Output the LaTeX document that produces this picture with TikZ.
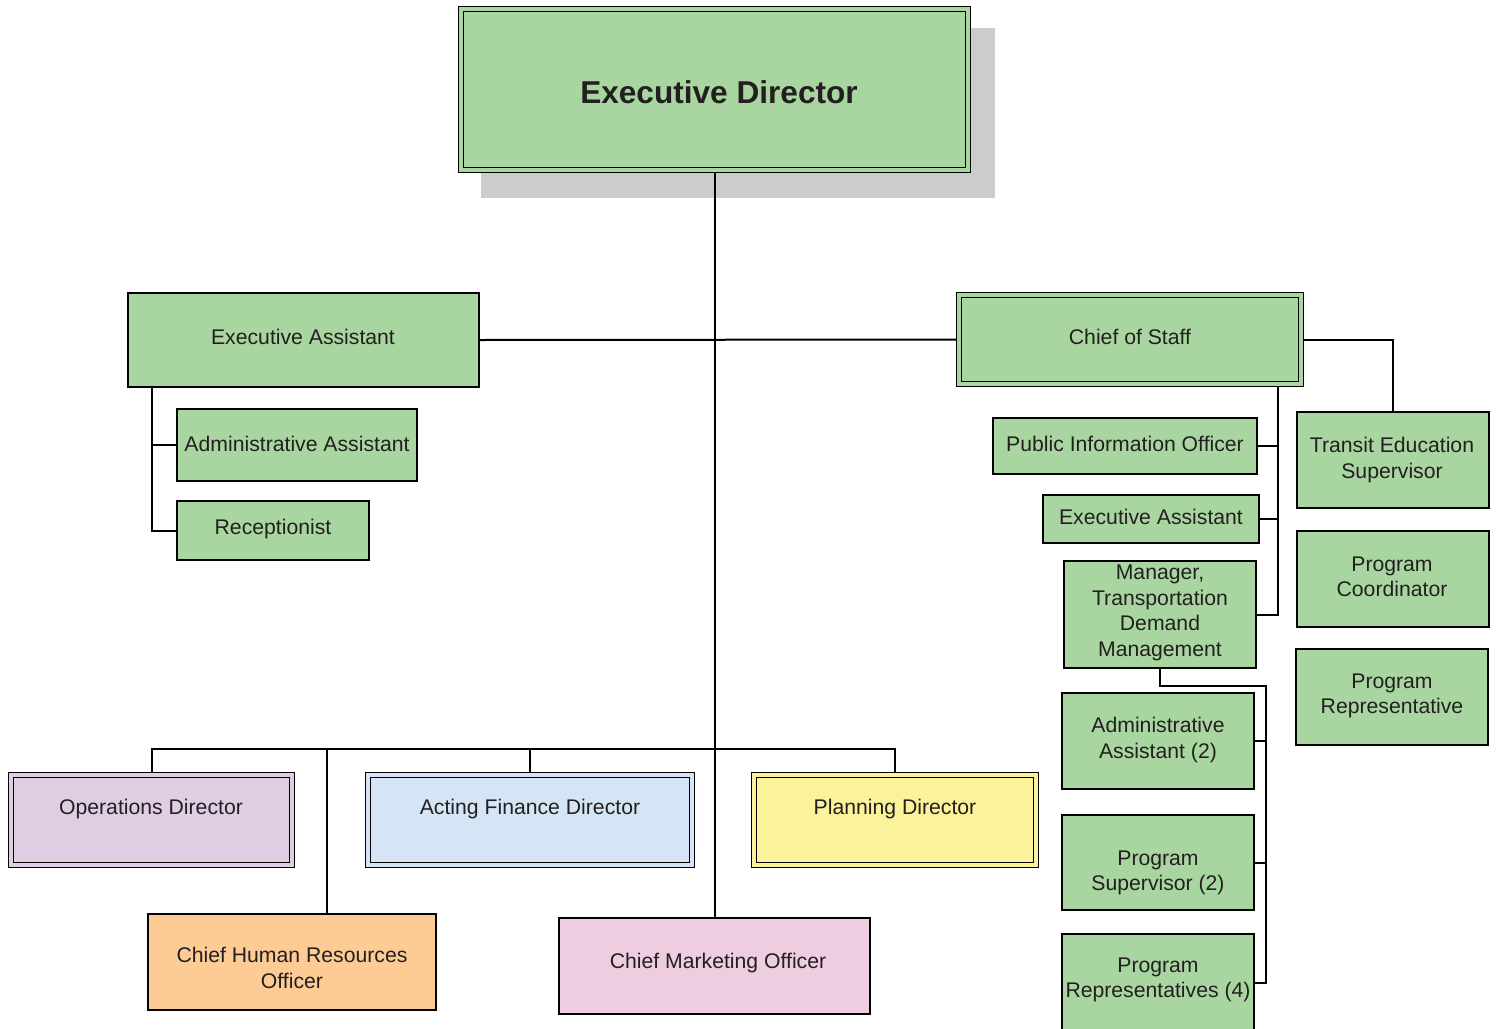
\documentclass[tikz,border=0pt]{standalone}
\usepackage{fontspec}
\setmainfont{Liberation Sans}
\usetikzlibrary{backgrounds}

\definecolor{boxgreen}{HTML}{A9D6A0}
\definecolor{opslilac}{HTML}{DFCDE4}
\definecolor{finblue}{HTML}{D6E5F5}
\definecolor{planyellow}{HTML}{FAF39A}
\definecolor{hrorange}{HTML}{FDCB94}
\definecolor{mktpink}{HTML}{EECDE1}
\definecolor{shadowgray}{HTML}{CCCCCC}
\definecolor{ink}{HTML}{231F20}

% #1 style, #2 name, (#3,#4) top-left corner, (#5,#6) bottom-right corner
\newcommand\orgrect[6]{%
  \node[#1, rectangle, inner sep=0pt, outer sep=0pt,
        minimum width={(#5-#3)*0.5pt}, minimum height={(#6-#4)*0.5pt}]
        (#2) at ({(#3+#5)/2},{(#4+#6)/2}) {};}

\begin{document}
\begin{tikzpicture}[x=0.5pt,y=-0.5pt,
  box/.style={draw=black, line width=0.85pt, fill=#1},
  box/.default=boxgreen,
  dbox/.style={draw=black, line width=0.85pt, double=#1, double distance=1.7pt, fill=#1},
  dbox/.default=boxgreen,
  link/.style={draw=black, line width=1pt},
  lbl/.style={font=\fontsize{10.6}{12.8}\selectfont, text=ink, align=center, inner sep=0pt},
  title/.style={font=\fontsize{15.8}{18}\selectfont\bfseries, text=ink, inner sep=0pt}]
\useasboundingbox (0,0) rectangle (1496,1029);

% ---- boxes ----
\orgrect{dbox}{ed}{461}{9}{968}{170}
\orgrect{box}{ea}{128}{293}{479}{387}
\orgrect{box}{aa}{177}{409}{417}{481}
\orgrect{box}{rec}{177}{501}{369}{560}
\orgrect{dbox}{cos}{959}{295}{1301}{384}
\orgrect{box}{pio}{993}{418}{1257}{474}
\orgrect{box}{eatwo}{1043}{495}{1259}{543}
\orgrect{box}{mgr}{1064}{561}{1256}{668}
\orgrect{box}{asst}{1062}{693}{1254}{789}
\orgrect{box}{psup}{1062}{815}{1254}{910}
\orgrect{box}{preps}{1062}{934}{1254}{1032}
\orgrect{box}{tes}{1297}{412}{1489}{508}
\orgrect{box}{pcoord}{1297}{531}{1489}{627}
\orgrect{box}{prep}{1296}{649}{1488}{745}
\orgrect{dbox=opslilac}{ops}{11}{775}{292}{865}
\orgrect{dbox=finblue}{afd}{368}{775}{692}{865}
\orgrect{dbox=planyellow}{plan}{754}{775}{1036}{865}
\orgrect{box=hrorange}{chro}{148}{914}{436}{1010}
\orgrect{box=mktpink}{cmo}{559}{918}{870}{1014}

% ---- labels ----
\node[title] (edT) at (719,92) {Executive Director};
\node[lbl] (eaT) at (303,337) {Executive Assistant};
\node[lbl] (aaT) at (297,444) {Administrative Assistant};
\node[lbl] (recT) at (273,529) {Receptionist};
\node[lbl] (cosT) at (1130,337) {Chief of Staff};
\node[lbl] (pioT) at (1125,444) {Public Information Officer};
\node[lbl] (eatwoT) at (1151,517) {Executive Assistant};
\node[lbl] (mgrT) at (1160,613) {Manager,\\Transportation\\Demand\\Management};
\node[lbl] (asstT) at (1158,740) {Administrative\\Assistant (2)};
\node[lbl] (psupT) at (1158,873) {Program\\Supervisor (2)};
\node[lbl] (prepsT) at (1158,980) {Program\\Representatives (4)};
\node[lbl] (tesT) at (1392,460) {Transit Education\\Supervisor};
\node[lbl] (pcoordT) at (1392,577) {Program\\Coordinator};
\node[lbl] (prepT) at (1392,696) {Program\\Representative};
\node[lbl] (opsT) at (151,809) {Operations Director};
\node[lbl] (afdT) at (530,809) {Acting Finance Director};
\node[lbl] (planT) at (895,809) {Planning Director};
\node[lbl] (chroT) at (292,968) {Chief Human Resources\\Officer};
\node[lbl] (cmoT) at (718,963) {Chief Marketing Officer};

% ---- shadow and connectors, kept under the boxes ----
\begin{pgfonlayer}{background}
  \fill[shadowgray] (481,28) rectangle (995,198);

  % main spine and the row through the assistants
  \draw[link] (ed.south) -- (cmo.north);
  \draw[link] (ea.east) -- (cos.east -| cos.west);

  % executive assistant's reports
  \coordinate (eaJ) at ([xshift=12pt]ea.south west);
  \draw[link] (eaJ) |- (aa.west);
  \draw[link] (eaJ) |- (rec.west);

  % chief of staff's reports
  \draw[link] (cos.east) -| (tes.north);
  \coordinate (cosJ) at ([xshift=-11.5pt]cos.south east);
  \draw[link] (cosJ) |- (pio.east);
  \draw[link] (cosJ) |- (eatwo.east);
  \draw[link] (cosJ) |- (mgr.east);

  % transportation demand management team
  \coordinate (mgrBus) at ([yshift=-9pt]mgr.south);
  \coordinate (tdmTrunk) at ([xshift=6pt]asst.east);
  \draw[link] (mgr.south) |- (tdmTrunk |- mgrBus) |- (preps.east);
  \draw[link] (asst.east) -- (tdmTrunk |- asst.east);
  \draw[link] (psup.east) -- (tdmTrunk |- psup.east);

  % directors' bus
  \coordinate (busL) at ([yshift=13pt]ops.north);
  \draw[link] (ops.north) -- (busL) -| (plan.north);
  \draw[link] (afd.north) -- (afd.north |- busL);
  \coordinate (chroJ) at ([xshift=17.5pt]chro.north);
  \draw[link] (chroJ) -- (chroJ |- busL);
\end{pgfonlayer}
\end{tikzpicture}
\end{document}
